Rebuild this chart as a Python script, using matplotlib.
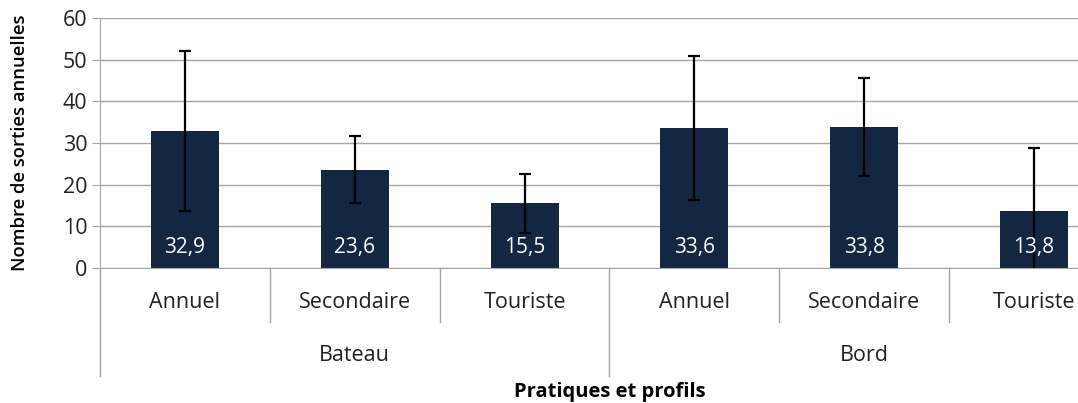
import matplotlib
matplotlib.use("Agg")
import matplotlib.pyplot as plt
import matplotlib.transforms as mtransforms

# Data
profiles = ["Annuel", "Secondaire", "Touriste", "Annuel", "Secondaire", "Touriste"]
groups = ["Bateau", "Bord"]
means = [32.9, 23.6, 15.5, 33.6, 33.8, 13.8]
errors = [19.2, 8.1, 7.1, 17.3, 11.8, 15.1]
value_labels = ["32,9", "23,6", "15,5", "33,6", "33,8", "13,8"]

plt.rcParams.update({
    "font.family": ["Open Sans", "DejaVu Sans"],
    "font.size": 15,
})

W, H = 1078, 403
fig = plt.figure(figsize=(W / 100, H / 100), dpi=100)
# plot area runs past the right edge of the picture, as in the original
ax = fig.add_axes([100 / W, (H - 268) / H, 1019 / W, 250 / H])

grey = "#a6a6a6"
txt = "#222222"
x = range(len(means))
ax.bar(x, means, width=0.4, color="#132742", zorder=2)
ax.errorbar(x, means, yerr=errors, fmt="none", ecolor="black",
            elinewidth=1.6, capsize=4.5, capthick=1.6, zorder=3)

for xi, lab in zip(x, value_labels):
    ax.text(xi, 5.0, lab, color="white", ha="center", va="center",
            fontsize=15, zorder=4)

ax.set_xlim(-0.5, len(means) - 0.5)
ax.set_ylim(0, 60)
ax.set_yticks(range(0, 61, 10))
ax.yaxis.grid(True, color=grey, linewidth=1)
ax.set_axisbelow(True)
ax.tick_params(axis="y", length=6, color=grey, pad=3, labelsize=15.5,
               labelcolor=txt)
ax.set_xticks([])

for s in ["top", "right"]:
    ax.spines[s].set_visible(False)
ax.spines["left"].set_color(grey)
ax.spines["bottom"].set_color(grey)

# two-level category axis
trans = mtransforms.blended_transform_factory(ax.transData, ax.transAxes)
for xi, lab in zip(x, profiles):
    ax.text(xi, -0.14, lab, transform=trans, ha="center", va="center",
            fontsize=15.5, color=txt)
for i in range(1, len(means)):
    bottom = -0.43 if i == 3 else -0.216
    ax.plot([i - 0.5, i - 0.5], [0, bottom], transform=trans, color=grey,
            linewidth=1, clip_on=False)
ax.plot([-0.5, -0.5], [0, -0.43], transform=trans, color=grey,
        linewidth=1, clip_on=False)
for gi, g in enumerate(groups):
    ax.text(gi * 3 + 1, -0.35, g, transform=trans, ha="center", va="center",
            fontsize=15.5, color=txt)

ax.text(0.5, -0.495, "Pratiques et profils", transform=ax.transAxes,
        ha="center", va="center", fontsize=14.5, fontweight="bold")
fig.text(20 / W, 1 - 143 / H, "Nombre de sorties annuelles", rotation=90,
         ha="center", va="center", fontsize=13.3, fontweight="semibold")

fig.savefig("out.png", dpi=100)
